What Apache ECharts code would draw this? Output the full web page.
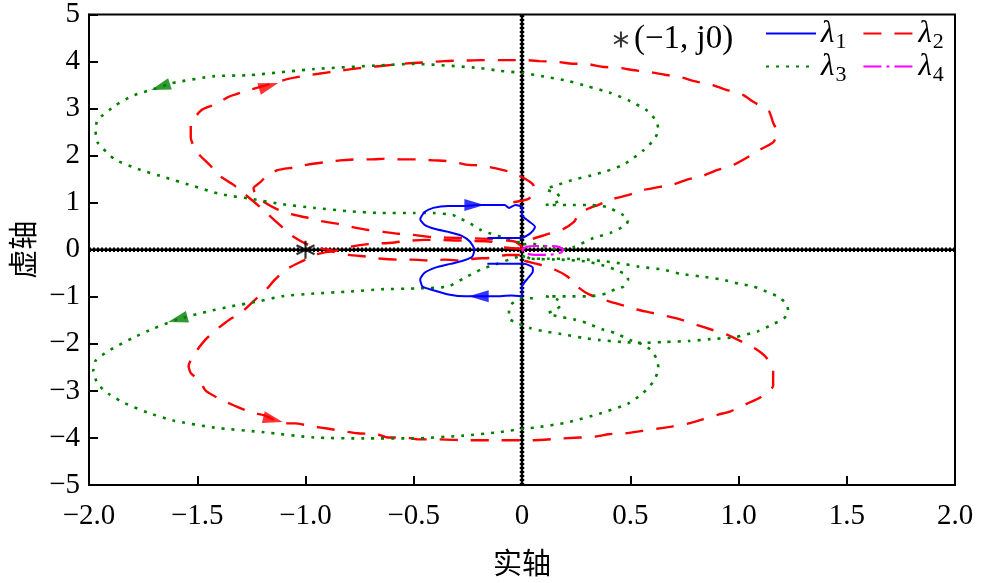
<!DOCTYPE html>
<html><head><meta charset="utf-8">
<script src="https://cdn.jsdelivr.net/npm/echarts/dist/echarts.min.js"></script>
<style>html,body{margin:0;padding:0;background:#fff}#c{width:982px;height:583px}</style>
</head><body><div id="c"></div>
<script>
const xTickLabels = ['−2.0','−1.5','−1.0','−0.5','0','0.5','1.0','1.5','2.0'];
const yTickLabels = ['−5','−4','−3','−2','−1','0','1','2','3','4','5'];
const legendNames = ['(−1, j0)','λ1','λ2','λ3','λ4'];
const criticalPoint = [[-1.0, 0]];
const zeroLineV = [[0,-5],[0,5]];
const zeroLineH = [[-2,0],[2,0]];

const lambda1 = [[-0.16,0.25],[-0.07,0.25],[0.00,0.25],[0.03,0.32],[0.05,0.40],[0.06,0.49],[0.03,0.61],[0.00,0.74],[0.00,0.91],[-0.03,0.95],[-0.06,0.89],[-0.08,0.95],[-0.13,0.95],[-0.20,0.95],[-0.27,0.93],[-0.34,0.93],[-0.41,0.89],[-0.45,0.80],[-0.47,0.65],[-0.45,0.53],[-0.40,0.44],[-0.34,0.38],[-0.28,0.30],[-0.24,0.17],[-0.22,0.00],[-0.23,-0.15],[-0.27,-0.23],[-0.33,-0.30],[-0.40,-0.38],[-0.45,-0.49],[-0.47,-0.63],[-0.46,-0.78],[-0.41,-0.86],[-0.34,-0.95],[-0.26,-0.99],[-0.18,-0.99],[-0.10,-0.99],[-0.05,-0.97],[0.00,-0.99],[0.00,-0.78],[0.03,-0.59],[0.05,-0.46],[0.05,-0.38],[0.01,-0.30],[-0.07,-0.30],[-0.16,-0.30]];

const lambda2Outer = [[0.00,0.02],[-0.10,0.06],[-0.14,0.17],[-0.26,0.19],[-0.38,0.21],[-0.45,0.21],[-0.53,0.19],[-0.60,0.15],[-0.68,0.13],[-0.73,0.11],[-0.82,0.04],[-0.86,-0.02],[-0.94,0.04],[-1.00,0.13],[-1.07,0.32],[-1.11,0.49],[-1.17,0.74],[-1.22,0.95],[-1.28,1.18],[-1.33,1.37],[-1.40,1.58],[-1.44,1.79],[-1.50,2.07],[-1.53,2.38],[-1.53,2.66],[-1.48,2.97],[-1.41,3.10],[-1.36,3.24],[-1.27,3.38],[-1.18,3.50],[-1.08,3.63],[-1.00,3.70],[-0.94,3.74],[-0.85,3.80],[-0.79,3.84],[-0.71,3.88],[-0.64,3.91],[-0.56,3.95],[-0.50,3.97],[-0.42,3.99],[-0.36,4.01],[-0.27,4.02],[-0.19,4.03],[-0.05,4.03],[0.02,4.03],[0.08,4.01],[0.17,3.99],[0.22,3.96],[0.31,3.94],[0.37,3.89],[0.46,3.86],[0.51,3.82],[0.60,3.77],[0.66,3.72],[0.74,3.66],[0.79,3.59],[0.88,3.50],[0.93,3.42],[1.02,3.29],[1.07,3.14],[1.14,2.95],[1.16,2.70],[1.18,2.49],[1.16,2.28],[1.10,2.13],[1.04,1.96],[0.98,1.81],[0.90,1.69],[0.84,1.58],[0.77,1.50],[0.70,1.39],[0.63,1.33],[0.56,1.27],[0.49,1.16],[0.42,1.08],[0.35,0.95],[0.30,0.86],[0.26,0.74],[0.24,0.59],[0.19,0.44],[0.11,0.32],[0.04,0.21],[0.00,0.04]];

const lambda2Inner = [[0.00,0.06],[-0.03,0.17],[-0.14,0.23],[-0.28,0.25],[-0.42,0.27],[-0.51,0.32],[-0.57,0.34],[-0.64,0.38],[-0.71,0.42],[-0.79,0.49],[-0.85,0.55],[-0.93,0.61],[-0.99,0.68],[-1.07,0.76],[-1.13,0.86],[-1.19,1.01],[-1.23,1.16],[-1.24,1.31],[-1.21,1.43],[-1.19,1.52],[-1.13,1.69],[-1.05,1.75],[-0.99,1.81],[-0.91,1.86],[-0.84,1.90],[-0.76,1.92],[-0.70,1.92],[-0.62,1.94],[-0.56,1.92],[-0.48,1.92],[-0.41,1.90],[-0.33,1.88],[-0.26,1.81],[-0.19,1.79],[-0.12,1.73],[-0.05,1.65],[0.01,1.52],[0.05,1.39],[0.06,1.24],[0.03,1.08],[-0.04,1.01]];

const lambda2Lower = [[-0.01,-0.11],[-0.07,-0.11],[-0.14,-0.17],[-0.22,-0.19],[-0.28,-0.23],[-0.36,-0.21],[-0.42,-0.23],[-0.51,-0.21],[-0.57,-0.21],[-0.65,-0.19],[-0.71,-0.15],[-0.80,-0.11],[-0.88,-0.04],[-0.96,-0.11],[-1.01,-0.23],[-1.09,-0.42],[-1.14,-0.63],[-1.19,-0.89],[-1.23,-1.05],[-1.30,-1.35],[-1.35,-1.48],[-1.41,-1.69],[-1.46,-1.90],[-1.51,-2.19],[-1.54,-2.47],[-1.53,-2.62],[-1.49,-2.78],[-1.46,-3.00],[-1.38,-3.21],[-1.33,-3.31],[-1.25,-3.46],[-1.19,-3.52],[-1.10,-3.69],[-1.05,-3.69],[-0.96,-3.76],[-0.90,-3.80],[-0.82,-3.86],[-0.76,-3.90],[-0.67,-3.92],[-0.62,-3.99],[-0.54,-3.99],[-0.48,-4.03],[-0.39,-4.03],[-0.24,-4.05],[-0.10,-4.05],[0.05,-4.05],[0.19,-4.01],[0.34,-3.97],[0.40,-3.92],[0.48,-3.90],[0.54,-3.86],[0.63,-3.80],[0.69,-3.76],[0.77,-3.69],[0.83,-3.61],[0.91,-3.50],[0.96,-3.44],[1.04,-3.27],[1.10,-3.14],[1.16,-2.89],[1.16,-2.57],[1.13,-2.30],[1.08,-2.11],[1.00,-1.92],[0.95,-1.81],[0.87,-1.69],[0.81,-1.60],[0.73,-1.48],[0.67,-1.41],[0.59,-1.33],[0.53,-1.27],[0.45,-1.16],[0.39,-1.08],[0.31,-0.95],[0.26,-0.80],[0.21,-0.57],[0.15,-0.42],[0.07,-0.30],[0.01,-0.23],[-0.03,-0.08]];

const lambda3Upper = [[-0.01,0.15],[-0.06,0.23],[-0.13,0.32],[-0.19,0.42],[-0.25,0.59],[-0.28,0.65],[-0.32,0.74],[-0.41,0.78],[-0.50,0.78],[-0.65,0.78],[-0.80,0.82],[-0.96,0.89],[-1.11,0.97],[-1.25,1.08],[-1.39,1.18],[-1.53,1.37],[-1.65,1.54],[-1.77,1.71],[-1.88,1.92],[-1.96,2.28],[-1.97,2.55],[-1.96,2.76],[-1.88,3.06],[-1.80,3.27],[-1.67,3.46],[-1.62,3.54],[-1.42,3.69],[-1.26,3.71],[-0.96,3.84],[-0.65,3.92],[-0.50,3.95],[-0.19,3.86],[-0.10,3.80],[0.00,3.76],[0.09,3.69],[0.21,3.59],[0.30,3.48],[0.41,3.33],[0.50,3.16],[0.58,2.95],[0.62,2.74],[0.63,2.55],[0.61,2.34],[0.56,2.11],[0.50,1.90],[0.46,1.79],[0.39,1.67],[0.32,1.58],[0.23,1.48],[0.16,1.37],[0.11,1.29],[0.16,1.20],[0.18,1.08],[0.15,0.99],[0.11,0.95],[0.21,0.95],[0.32,0.95],[0.39,0.91],[0.46,0.76],[0.49,0.63],[0.48,0.53],[0.41,0.36],[0.33,0.25],[0.24,0.06],[0.18,0.00],[0.04,0.13],[0.00,0.11]];

const lambda3Lower = [[-0.02,-0.15],[-0.06,-0.21],[-0.13,-0.32],[-0.19,-0.42],[-0.27,-0.61],[-0.34,-0.78],[-0.47,-0.82],[-0.65,-0.84],[-0.80,-0.89],[-0.96,-0.93],[-1.11,-0.99],[-1.22,-1.10],[-1.34,-1.20],[-1.45,-1.31],[-1.59,-1.48],[-1.70,-1.67],[-1.80,-1.88],[-1.91,-2.15],[-1.97,-2.36],[-1.98,-2.57],[-1.96,-2.85],[-1.91,-3.06],[-1.84,-3.25],[-1.73,-3.46],[-1.61,-3.63],[-1.42,-3.78],[-1.19,-3.88],[-0.96,-3.99],[-0.73,-4.01],[-0.50,-4.01],[-0.27,-3.95],[-0.11,-3.88],[0.01,-3.80],[0.06,-3.78],[0.21,-3.67],[0.36,-3.48],[0.49,-3.27],[0.56,-3.04],[0.61,-2.78],[0.63,-2.51],[0.62,-2.30],[0.59,-2.11],[0.54,-1.98],[0.50,-1.92],[0.43,-1.77],[0.37,-1.69],[0.30,-1.56],[0.24,-1.48],[0.16,-1.41],[0.12,-1.35],[0.16,-1.27],[0.18,-1.16],[0.16,-1.05],[0.11,-0.99],[0.21,-0.99],[0.31,-0.99],[0.39,-0.93],[0.43,-0.84],[0.47,-0.78],[0.49,-0.63],[0.48,-0.53],[0.43,-0.42],[0.38,-0.34],[0.30,-0.25],[0.18,-0.21],[0.04,-0.19],[0.00,-0.13]];

const lambda3Extra = [[0.05,-1.03],[0.00,-1.03],[-0.05,-1.16],[-0.06,-1.31],[-0.06,-1.46],[-0.02,-1.56],[0.04,-1.67],[0.10,-1.73],[0.18,-1.79],[0.29,-1.88],[0.36,-1.92],[0.46,-1.96],[0.55,-1.98],[0.66,-1.96],[0.77,-1.94],[0.87,-1.90],[0.98,-1.86],[1.09,-1.73],[1.16,-1.58],[1.21,-1.46],[1.23,-1.31],[1.22,-1.14],[1.18,-0.99],[1.13,-0.89],[1.07,-0.78],[1.00,-0.72],[0.92,-0.63],[0.83,-0.57],[0.73,-0.51],[0.65,-0.42],[0.54,-0.36],[0.47,-0.30],[0.39,-0.25],[0.30,-0.21],[0.22,-0.19],[0.12,-0.19],[0.04,-0.19],[0.00,-0.08]];

const lambda4 = [[0.00,0.00],[0.02,0.06],[0.06,0.08],[0.12,0.08],[0.17,0.06],[0.19,0.00],[0.18,-0.06],[0.12,-0.11],[0.06,-0.11],[0.02,-0.08],[0.00,0.00]];

const arrowBlue = [[-0.22,0.95],[-0.20,-0.99]];
const arrowBlueDir = [-90, 90];
const arrowRed = [[-1.17,3.48],[-1.15,-3.61]];
const arrowRedDir = [-73, -104];
const arrowGreen = [[-1.67,3.46],[-1.59,-1.48]];
const arrowGreenDir = [108, 105];

const serif = 'Liberation Serif, Times New Roman, serif';
const cjk = 'Noto Sans CJK SC';
const chart = echarts.init(document.getElementById('c'));

function curve(name, data, color, width, type, z) {
  return {name: name, type: 'line', data: data, symbol: 'none', showSymbol: false, smooth: 0.2,
    silent: true, animation: false, z: z || 3,
    lineStyle: {color: color, width: width, type: type, cap: 'butt'}, itemStyle: {color: color}};
}
function arrows(data, dirs, color) {
  return {type: 'scatter', silent: true, animation: false, z: 6, symbol: 'triangle', symbolSize: [12, 20],
    itemStyle: {color: color}, data: data.map(function (p, i) { return {value: p, symbolRotate: dirs[i]}; })};
}
function zeroLine(data, w, type) {
  return {type: 'line', data: data, symbol: 'none', silent: true, animation: false, z: 1,
    lineStyle: {color: '#000', width: w, type: type, cap: 'butt'}};
}
const star = 'path://M5,0L5,10M0.67,2.5L9.33,7.5M0.67,7.5L9.33,2.5';
const rich = {
  l: {fontFamily: serif, fontStyle: 'italic', fontSize: 31, color: '#000'},
  s: {fontFamily: serif, fontSize: 22, color: '#000', padding: [17, 0, 0, 1]}
};
function lamFmt(n) { return '{l|λ}{s|' + n.slice(1) + '}'; }
const hideSym = {opacity: 0, color: 'rgba(0,0,0,0)', borderWidth: 0};

chart.setOption({
  animation: false,
  backgroundColor: '#fff',
  grid: {left: 88, right: 27, top: 11, bottom: 98, show: true, borderColor: '#000', borderWidth: 2},
  xAxis: {type: 'value', min: -2, max: 2, interval: 0.5,
    axisLine: {onZero: false, lineStyle: {color: '#000', width: 2}},
    axisTick: {inside: true, length: 9, lineStyle: {color: '#000', width: 2}},
    splitLine: {show: false},
    axisLabel: {formatter: function (v) { return xTickLabels[Math.round((v + 2) / 0.5)]; },
      fontFamily: serif, fontSize: 29, color: '#000', margin: 17, showMinLabel: true, showMaxLabel: true},
    name: '实轴', nameLocation: 'middle', nameGap: 63,
    nameTextStyle: {fontFamily: cjk, fontSize: 29, color: '#000'}},
  yAxis: {type: 'value', min: -5, max: 5, interval: 1,
    axisLine: {onZero: false, lineStyle: {color: '#000', width: 2}},
    axisTick: {inside: true, length: 9, lineStyle: {color: '#000', width: 2}},
    splitLine: {show: false},
    axisLabel: {formatter: function (v) { return yTickLabels[Math.round(v + 5)]; },
      fontFamily: serif, fontSize: 29, color: '#000', margin: 9, showMinLabel: true, showMaxLabel: true},
    name: '虚轴', nameLocation: 'middle', nameGap: 52, nameRotate: 90,
    nameTextStyle: {fontFamily: cjk, fontSize: 29, color: '#000'}},
  legend: [
    {data: [legendNames[0]], left: 608, top: 18, itemWidth: 16, itemHeight: 16, itemGap: 6, selectedMode: false,
      textStyle: {fontFamily: serif, fontSize: 33, color: '#000'}},
    {data: [legendNames[1], legendNames[2]], left: 760, top: 13, itemWidth: 50, itemHeight: 14, itemGap: 16,
      selectedMode: false, formatter: lamFmt, textStyle: {rich: rich}, itemStyle: hideSym},
    {data: [legendNames[3], legendNames[4]], left: 760, top: 46, itemWidth: 50, itemHeight: 14, itemGap: 16,
      selectedMode: false, formatter: lamFmt, textStyle: {rich: rich}, itemStyle: hideSym}
  ],
  series: [
    zeroLine(zeroLineV, 2.5, 'solid'), zeroLine(zeroLineV, 4.5, [2, 2]),
    zeroLine(zeroLineH, 2.5, 'solid'), zeroLine(zeroLineH, 4.5, [2, 2]),
    {name: legendNames[0], type: 'scatter', data: criticalPoint, symbol: star, symbolSize: 18, z: 7, silent: true,
      itemStyle: {color: '#000', borderColor: '#000', borderWidth: 2.2}},
    curve(legendNames[2], lambda2Outer, '#ff0000', 2.4, [18, 13]),
    curve(legendNames[2], lambda2Inner, '#ff0000', 2.4, [18, 13]),
    curve(legendNames[2], lambda2Lower, '#ff0000', 2.4, [18, 13]),
    curve(legendNames[3], lambda3Upper, '#008000', 2.6, [3, 7]),
    curve(legendNames[3], lambda3Lower, '#008000', 2.6, [3, 7]),
    curve(legendNames[3], lambda3Extra, '#008000', 2.6, [3, 7]),
    curve(legendNames[1], lambda1, '#0000ff', 2, 'solid', 4),
    curve(legendNames[4], lambda4, '#ff00ff', 2.2, [18, 5, 3, 5], 5),
    arrows(arrowBlue, arrowBlueDir, '#0000ff'),
    arrows(arrowRed, arrowRedDir, '#ff0000'),
    arrows(arrowGreen, arrowGreenDir, '#008000')
  ]
});
</script></body></html>
